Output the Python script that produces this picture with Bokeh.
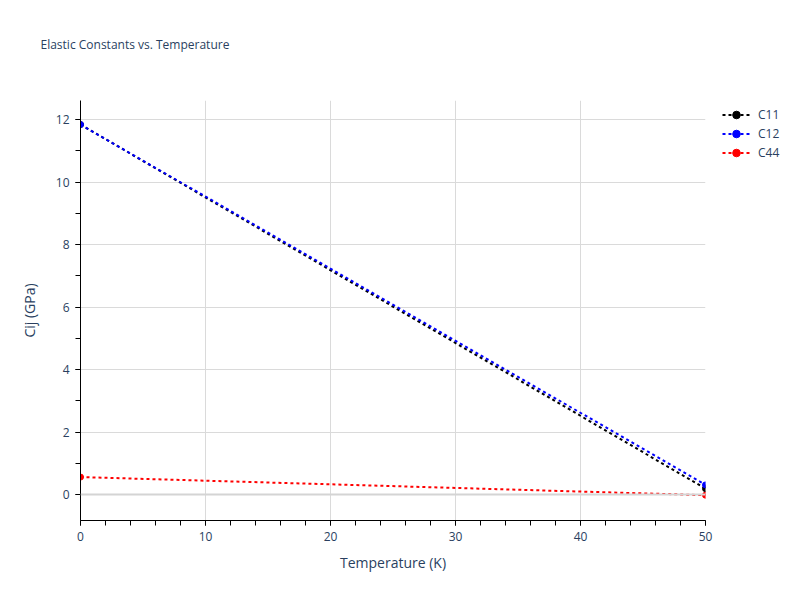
from bokeh.plotting import figure
from bokeh.layouts import row
from bokeh.models import Range1d, SingleIntervalTicker, Legend, LegendItem, Span, Title
from bokeh.embed import file_html
from bokeh.resources import INLINE

temperature = [0, 50]
c11 = [11.84, 0.19]
c12 = [11.84, 0.31]
c44 = [0.56, -0.02]
series_names = ["C11", "C12", "C44"]
series_colors = ["black", "blue", "red"]

FONT = "Open Sans"
TXT = "#2a3f5f"

p = figure(width=715, height=600, output_backend="svg", toolbar_location=None,
           title=None,
           x_range=Range1d(0, 50), y_range=Range1d(-0.83, 12.61),
           min_border_left=80, min_border_right=10, min_border_top=100,
           min_border_bottom=80)
p.background_fill_color = "white"
p.border_fill_color = "white"
p.outline_line_color = None

spacer = Title(text=" ", standoff=24, text_font=FONT, text_font_size="12px")
p.add_layout(spacer, "above")
title = Title(text="Elastic Constants vs. Temperature", align="left", offset=-40,
              text_font=FONT, text_font_size="12px", text_font_style="normal",
              text_color=TXT, standoff=10)
p.add_layout(title, "above")

p.xaxis.ticker = SingleIntervalTicker(interval=10, num_minor_ticks=5)
p.yaxis.ticker = SingleIntervalTicker(interval=2, num_minor_ticks=2)
for ax in (p.xaxis[0], p.yaxis[0]):
    ax.axis_line_color = "black"
    ax.axis_line_width = 1
    ax.major_tick_line_color = "black"
    ax.minor_tick_line_color = "black"
    ax.major_tick_out = 5
    ax.major_tick_in = 0
    ax.minor_tick_out = 5
    ax.minor_tick_in = 0
    ax.major_label_text_font = FONT
    ax.major_label_text_font_size = "12px"
    ax.major_label_text_color = TXT
    ax.axis_label_text_font = FONT
    ax.axis_label_text_font_size = "14px"
    ax.axis_label_text_font_style = "normal"
    ax.axis_label_text_color = TXT
p.xaxis.axis_label = "Temperature (K)"
p.yaxis.axis_label = "Cij (GPa)"
p.xaxis.major_label_standoff = 6
p.yaxis.major_label_standoff = 6
p.xaxis.axis_label_standoff = 9
p.yaxis.axis_label_standoff = 14

p.xgrid.grid_line_color = "#dadada"
p.ygrid.grid_line_color = "#dadada"
p.xgrid.grid_line_width = 1
p.ygrid.grid_line_width = 1

p.add_layout(Span(location=0, dimension="width", line_color="#d4d4d4", line_width=2))

# legend panel: a side figure whose view range excludes the data, so only the legend shows
q = figure(width=85, height=600, output_backend="svg", toolbar_location=None,
           title=None, x_range=Range1d(100, 101), y_range=Range1d(100, 101),
           min_border_left=0, min_border_right=0, min_border_top=100,
           min_border_bottom=80)
q.axis.visible = False
q.grid.visible = False
q.outline_line_color = None
q.background_fill_color = "white"
q.border_fill_color = "white"

items = []
for name, vals, col in zip(series_names, [c11, c12, c44], series_colors):
    p.line(temperature, vals, line_color=col, line_width=2, line_dash="3 3")
    p.scatter(temperature, vals, size=6, fill_color=col, line_color=col)
    ln = q.line(temperature, vals, line_color=col, line_width=2, line_dash="3 3")
    sc = q.scatter(temperature, vals, size=6, fill_color=col, line_color=col)
    items.append(LegendItem(label=name, renderers=[ln, sc]))

legend = Legend(items=items, location=(7, 358), orientation="vertical")
legend.background_fill_alpha = 0
legend.border_line_color = None
legend.padding = 0
legend.margin = 0
legend.spacing = 0
legend.label_height = 19
legend.glyph_height = 19
legend.glyph_width = 28
legend.label_standoff = 8
legend.label_text_font = FONT
legend.label_text_font_size = "12px"
legend.label_text_color = TXT
q.add_layout(legend, "center")

layout = row(p, q, spacing=0)
open("out.html", "w").write(file_html(layout, INLINE))
